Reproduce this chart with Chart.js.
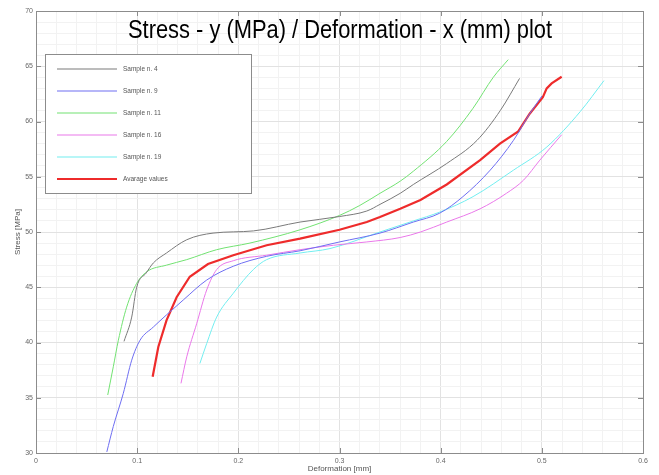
<!DOCTYPE html>
<html>
<head>
<meta charset="utf-8">
<script src="https://cdn.jsdelivr.net/npm/chart.js@4/dist/chart.umd.min.js"></script>
<style>
  html, body { margin: 0; padding: 0; background: #fff; }
  canvas { display: block; }
</style>
</head>
<body>
<canvas id="myChart" width="659" height="475"></canvas>
<script>
// values
const seriesLabels = ['Sample n. 4', 'Sample n. 9', 'Sample n. 11', 'Sample n. 16', 'Sample n. 19', 'Avarage values'];
const seriesColors = ['#7a7a7a', '#6e6ef2', '#72e272', '#ea78ea', '#72eef0', '#ee2b2b'];

const sample4X = [0.087, 0.0946, 0.0995, 0.109, 0.116, 0.129, 0.149, 0.175, 0.215, 0.261, 0.300, 0.327, 0.340, 0.360, 0.373, 0.406, 0.436, 0.459, 0.478];
const sample4Y = [40.1, 42.3, 45.0, 46.3, 47.2, 48.1, 49.3, 49.9, 50.1, 50.9, 51.4, 51.9, 52.5, 53.5, 54.3, 56.2, 58.3, 61.0, 63.9];

const sample9X = [0.070, 0.0764, 0.0863, 0.0946, 0.1028, 0.116, 0.129, 0.1456, 0.1687, 0.195, 0.228, 0.261, 0.300, 0.340, 0.373, 0.399, 0.422, 0.449, 0.472, 0.488, 0.500];
const sample9Y = [30.1, 32.4, 35.4, 38.4, 40.2, 41.4, 42.5, 43.85, 45.65, 46.9, 47.8, 48.3, 49.1, 49.9, 50.9, 51.7, 53.2, 55.6, 58.3, 60.7, 62.3];

const sample11X = [0.0709, 0.0764, 0.0814, 0.0896, 0.0995, 0.1094, 0.129, 0.149, 0.1786, 0.2115, 0.261, 0.300, 0.320, 0.340, 0.360, 0.373, 0.406, 0.432, 0.452, 0.4668];
const sample11Y = [35.25, 37.8, 40.2, 43.2, 45.35, 46.4, 47.0, 47.5, 48.4, 49.0, 50.2, 51.5, 52.4, 53.5, 54.6, 55.5, 58.2, 61.2, 64.0, 65.6];

const sample16X = [0.1433, 0.149, 0.1588, 0.1687, 0.1786, 0.195, 0.228, 0.261, 0.294, 0.327, 0.360, 0.380, 0.406, 0.439, 0.465, 0.482, 0.498, 0.5196];
const sample16Y = [36.3, 38.7, 41.7, 44.75, 46.6, 47.4, 47.9, 48.4, 48.8, 49.1, 49.5, 50.0, 50.9, 52.1, 53.5, 54.7, 56.5, 58.8];

const sample19X = [0.162, 0.1687, 0.1786, 0.195, 0.2148, 0.228, 0.261, 0.2906, 0.340, 0.373, 0.399, 0.432, 0.472, 0.505, 0.538, 0.5614];
const sample19Y = [38.1, 39.9, 42.3, 44.45, 46.6, 47.5, 48.1, 48.5, 50.0, 51.0, 51.8, 53.2, 55.6, 57.7, 60.9, 63.7];

const avgX = [0.1153, 0.1209, 0.129, 0.139, 0.152, 0.170, 0.195, 0.228, 0.261, 0.300, 0.327, 0.340, 0.360, 0.380, 0.406, 0.439, 0.4586, 0.4767, 0.488, 0.501, 0.5048, 0.5097, 0.5196];
const avgY = [36.9, 39.6, 42.0, 44.1, 45.95, 47.1, 47.9, 48.8, 49.4, 50.2, 50.9, 51.35, 52.1, 52.9, 54.3, 56.5, 58.0, 59.1, 60.7, 62.2, 63.0, 63.45, 64.05];

const xTickLabels = ['0', '0.1', '0.2', '0.3', '0.4', '0.5', '0.6'];
const yTickLabels = ['30', '35', '40', '45', '50', '55', '60', '65', '70'];

const allX = [sample4X, sample9X, sample11X, sample16X, sample19X, avgX];
const allY = [sample4Y, sample9Y, sample11Y, sample16Y, sample19Y, avgY];

const toPoints = (xs, ys) => xs.map((x, i) => ({ x: x, y: ys[i] }));

const isMajorX = v => Math.abs(v * 10 - Math.round(v * 10)) < 1e-6;
const isMajorY = v => Math.abs(v / 5 - Math.round(v / 5)) < 1e-6;

const datasets = seriesLabels.map((label, i) => ({
  label: label,
  data: toPoints(allX[i], allY[i]),
  borderColor: seriesColors[i],
  borderWidth: i === 5 ? 2.2 : 1,
  pointRadius: 0,
  fill: false,
  tension: 0,
  cubicInterpolationMode: i === 5 ? 'default' : 'monotone'
}));

// frame, inward ticks, titles and the boxed legend, MATLAB style
const decorations = {
  id: 'decorations',
  afterDraw(chart) {
    const ctx = chart.ctx;
    const area = chart.chartArea;
    const xs = chart.scales.x;
    const ys = chart.scales.y;
    ctx.save();

    ctx.strokeStyle = '#8c8c8c';
    ctx.lineWidth = 1;
    ctx.strokeRect(area.left + 0.5, area.top + 0.5, area.right - area.left, area.bottom - area.top);

    ctx.beginPath();
    xTickLabels.forEach(t => {
      const px = Math.round(xs.getPixelForValue(parseFloat(t))) + 0.5;
      ctx.moveTo(px, area.bottom); ctx.lineTo(px, area.bottom - 5);
      ctx.moveTo(px, area.top); ctx.lineTo(px, area.top + 5);
    });
    yTickLabels.forEach(t => {
      const py = Math.round(ys.getPixelForValue(parseFloat(t))) + 0.5;
      ctx.moveTo(area.left, py); ctx.lineTo(area.left + 5, py);
      ctx.moveTo(area.right, py); ctx.lineTo(area.right - 5, py);
    });
    ctx.stroke();

    // axis titles
    ctx.fillStyle = '#555';
    ctx.font = "8px 'Liberation Sans', Arial, sans-serif";
    ctx.textAlign = 'center';
    ctx.textBaseline = 'middle';
    ctx.fillText('Deformation [mm]', (area.left + area.right) / 2, 469);
    ctx.save();
    ctx.translate(18, (area.top + area.bottom) / 2);
    ctx.rotate(-Math.PI / 2);
    ctx.fillText('Stress [MPa]', 0, 0);
    ctx.restore();

    // main title, squeezed to the reference width
    const title = 'Stress - y (MPa) / Deformation - x (mm) plot';
    ctx.font = "25px 'Liberation Sans Narrow', 'Liberation Sans', Arial, sans-serif";
    const w = ctx.measureText(title).width;
    const targetW = 424;
    ctx.save();
    ctx.translate(340, 38);
    ctx.scale(targetW / w, 1);
    ctx.fillStyle = '#000';
    ctx.textBaseline = 'alphabetic';
    ctx.fillText(title, 0, 0);
    ctx.restore();

    // legend box
    const lx = area.left + 9, ly = area.top + 43, lw = 206, lh = 139;
    ctx.fillStyle = '#fff';
    ctx.fillRect(lx, ly, lw, lh);
    ctx.strokeStyle = '#8c8c8c';
    ctx.strokeRect(lx + 0.5, ly + 0.5, lw, lh);
    ctx.font = "6.5px 'Liberation Sans', Arial, sans-serif";
    ctx.textAlign = 'left';
    chart.data.datasets.forEach((ds, i) => {
      const rowY = ly + 15 + i * 22;
      ctx.strokeStyle = ds.borderColor;
      ctx.lineWidth = i === 5 ? 2.2 : 1.2;
      ctx.beginPath();
      ctx.moveTo(lx + 12, rowY);
      ctx.lineTo(lx + 72, rowY);
      ctx.stroke();
      ctx.fillStyle = '#555';
      ctx.fillText(ds.label, lx + 78, rowY);
    });

    ctx.restore();
  }
};

const ctx = document.getElementById('myChart').getContext('2d');
new Chart(ctx, {
  type: 'line',
  data: { datasets: datasets },
  options: {
    responsive: false,
    animation: false,
    layout: { padding: { left: 0, right: 16, top: 11, bottom: 0 } },
    scales: {
      x: {
        type: 'linear',
        min: 0,
        max: 0.6,
        afterFit: scale => { scale.height = 22; },
        border: { display: false },
        grid: {
          drawTicks: false,
          color: c => isMajorX(c.tick.value) ? '#e2e2e2' : '#f2f2f2'
        },
        ticks: {
          stepSize: 0.02,
          maxTicksLimit: 100,
          autoSkip: false,
          maxRotation: 0,
          padding: 4,
          color: '#666',
          font: { size: 7, family: "'Liberation Sans', Arial, sans-serif" },
          callback: v => {
            if (!isMajorX(v)) return '';
            return xTickLabels[Math.round(v * 10)];
          }
        }
      },
      y: {
        min: 30,
        max: 70,
        afterFit: scale => { scale.width = 36; },
        border: { display: false },
        grid: {
          drawTicks: false,
          color: c => isMajorY(c.tick.value) ? '#e2e2e2' : '#f2f2f2'
        },
        ticks: {
          stepSize: 1,
          maxTicksLimit: 100,
          autoSkip: false,
          padding: 3,
          color: '#666',
          font: { size: 7, family: "'Liberation Sans', Arial, sans-serif" },
          callback: v => {
            if (!isMajorY(v)) return '';
            return yTickLabels[Math.round((v - 30) / 5)];
          }
        }
      }
    },
    plugins: {
      legend: { display: false },
      title: { display: false },
      tooltip: { enabled: false }
    }
  },
  plugins: [decorations]
});
</script>
</body>
</html>
